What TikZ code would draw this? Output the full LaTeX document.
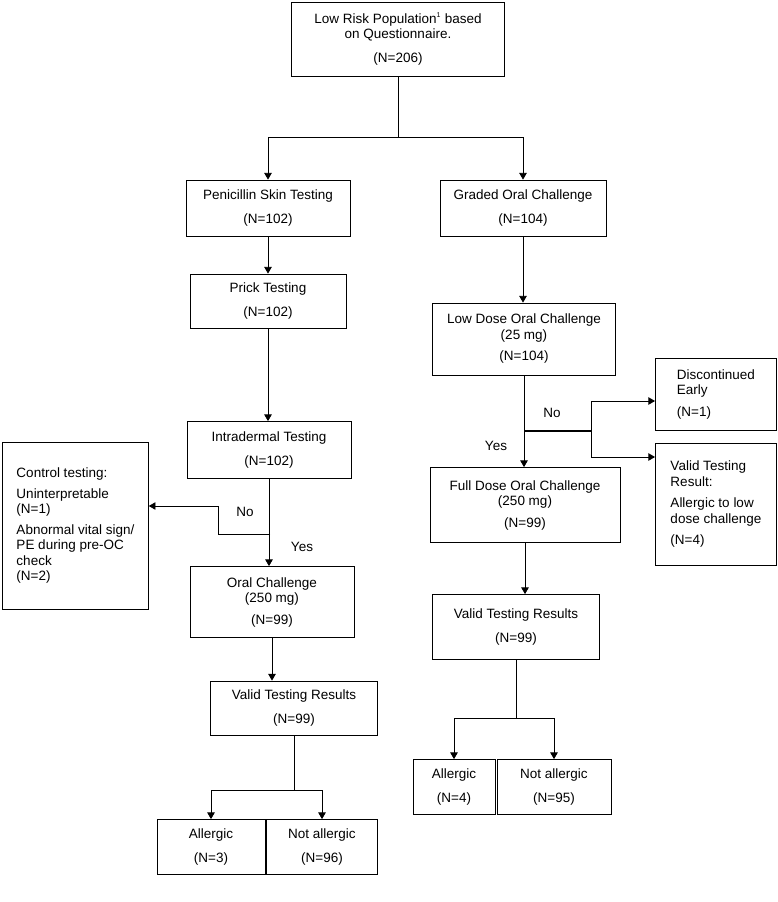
\documentclass[tikz,border=0pt]{standalone}
\usepackage{fontspec}
\setmainfont{Liberation Sans}
\usetikzlibrary{arrows}
\tikzstyle{box} = [rectangle, draw=black, thick, inner sep=2pt, align=center, font=\fontsize{13.5}{15.5}\selectfont]
\tikzstyle{lbox} = [rectangle, draw=black, thick, inner sep=6pt, align=left, anchor=north west, font=\fontsize{13.5}{15.5}\selectfont]
\tikzstyle{arrow} = [thick,->,>=triangle 60]
\tikzstyle{lbl} = [font=\fontsize{13.5}{15.5}\selectfont]

\begin{document}
\begin{tikzpicture}[x=1pt,y=-1pt]
\useasboundingbox (0,0) rectangle (778,902);

% Top
\node[box, minimum width=213pt, minimum height=74pt] (lowRisk) at (398,39) {Low Risk Population\textsuperscript{\scriptsize 1} based\\on Questionnaire.\\[8pt](N=206)};

% Column 1 - skin testing
\node[box, minimum width=164pt, minimum height=56pt] (skinTest) at (268,208) {Penicillin Skin Testing\\[8pt](N=102)};
\node[box, minimum width=156pt, minimum height=54pt] (prickTest) at (268,301) {Prick Testing\\[8pt](N=102)};
\node[box, minimum width=164pt, minimum height=57pt] (intraTest) at (269,450) {Intradermal Testing\\[8pt](N=102)};
\node[lbox, minimum width=146pt, minimum height=167pt] (ctrlTest) at (2,442) {Control testing:\\[5pt]Uninterpretable\\(N=1)\\[5pt]Abnormal vital sign/\\PE during pre-OC\\check\\(N=2)};
\node[box, minimum width=164pt, minimum height=71pt] (oralChal) at (272,602) {Oral Challenge\\(250 mg)\\[6pt](N=99)};
\node[box, minimum width=167pt, minimum height=54pt] (validL) at (294,708) {Valid Testing Results\\[8pt](N=99)};
\node[box, minimum width=108pt, minimum height=55pt] (allergL) at (211,847) {Allergic\\[8pt](N=3)};
\node[box, minimum width=111pt, minimum height=55pt] (notAllergL) at (322,847) {Not allergic\\[8pt](N=96)};

% Column 2 - oral challenge
\node[box, minimum width=166pt, minimum height=56pt] (gradedOral) at (523,208) {Graded Oral Challenge\\[8pt](N=104)};
\node[box, minimum width=183pt, minimum height=72pt] (lowDose) at (524,339) {Low Dose Oral Challenge\\(25 mg)\\[6pt](N=104)};
\node[lbox, minimum width=121pt, minimum height=72pt] (discEarly) at (655,358) {Discontinued\\Early\\[6pt](N=1)};
\node[lbox, minimum width=121pt, minimum height=122pt] (validLow) at (655,443) {Valid Testing\\Result:\\[6pt]Allergic to low\\dose challenge\\[6pt](N=4)};
\node[box, minimum width=190pt, minimum height=75pt] (fullDose) at (525,505) {Full Dose Oral Challenge\\(250 mg)\\[6pt](N=99)};
\node[box, minimum width=167pt, minimum height=65pt] (validR) at (516,627) {Valid Testing Results\\[8pt](N=99)};
\node[box, minimum width=82pt, minimum height=55pt] (allergR) at (454,787) {Allergic\\[8pt](N=4)};
\node[box, minimum width=114pt, minimum height=55pt] (notAllergR) at (554,787) {Not allergic\\[8pt](N=95)};

% Split points
\coordinate (topSplit) at (398,137);
\coordinate (noL) at (270,534);
\coordinate (noR) at (524,431);
\coordinate (splitL) at (294,790);
\coordinate (splitR) at (516,718);

% Top arrows
\draw[thick] (lowRisk.south) -- (topSplit);
\draw[arrow] (topSplit) -| (skinTest.north);
\draw[arrow] (topSplit) -| (gradedOral.north);

% Column 1 - Arrows
\draw[arrow] (skinTest) -- (prickTest);
\draw[arrow] (prickTest.south) -- (prickTest.south |- intraTest.north);
\draw[arrow] (intraTest.south) -- (intraTest.south |- oralChal.north);
\draw[arrow] (noL) -- ++(-52,0) |- (ctrlTest.east |- 0,506);
\node[lbl] at (245,512) {No};
\node[lbl] at (302,547) {Yes};
\draw[arrow] (oralChal.south) -- (oralChal.south |- validL.north);
\draw[thick] (validL.south) -- (splitL);
\draw[arrow] (splitL) -| (allergL.north);
\draw[arrow] (splitL) -| (notAllergL.north);

% Column 2 - Arrows
\draw[arrow] (gradedOral) -- (gradedOral |- lowDose.north);
\draw[arrow] (lowDose.south) -- (lowDose.south |- fullDose.north);
\draw[line width=2pt] (noR) -- (591,431);
\draw[arrow] (591,431) |- (discEarly.west |- 0,401);
\draw[arrow] (591,431) |- (validLow.west |- 0,457);
\node[lbl] at (552,413) {No};
\node[lbl] at (496,446) {Yes};
\draw[arrow] (fullDose.south) -- (fullDose.south |- validR.north);
\draw[thick] (validR.south) -- (splitR);
\draw[arrow] (splitR) -| (allergR.north);
\draw[arrow] (splitR) -| (notAllergR.north);

\end{tikzpicture}
\end{document}
